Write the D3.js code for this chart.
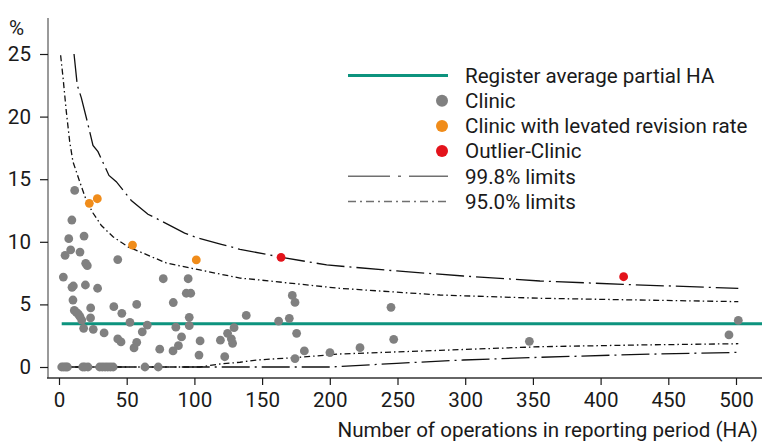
<!DOCTYPE html>
<html>
<head>
<meta charset="utf-8">
<script src="https://cdn.jsdelivr.net/npm/d3@7"></script>
<style>
  html, body { margin: 0; padding: 0; background: #fff; }
  svg text { font-family: Roboto, "Noto Sans", sans-serif; fill: #1a1a1a; }
</style>
</head>
<body>
<svg id="chart" width="762" height="443"></svg>
<script>
// clinics: [operations, revision rate %]
const clinics = [
  [11.6, 14.1], [9.5, 11.74], [7.2, 10.25], [18.5, 10.46], [8.6, 9.35], [15.5, 9.18],
  [4.5, 8.92], [43.4, 8.58], [19.7, 8.28], [20.9, 8.09], [3.2, 7.18], [77, 7.05],
  [95.4, 7.05], [9.6, 6.36], [10.6, 6.47], [19.5, 6.55], [28.5, 6.29], [94, 5.89],
  [97.3, 5.89], [84.4, 5.15], [10.3, 5.35], [57.4, 5.0], [40.5, 4.82], [23.4, 4.72],
  [11.3, 4.52], [12.8, 4.37], [14.3, 4.23], [15.5, 4.02], [16.8, 3.75], [23.3, 3.92],
  [46.4, 4.29], [138.3, 4.12], [96.2, 3.97], [96.2, 3.3], [86.3, 3.18], [18.2, 3.09],
  [25.3, 3.01], [52.4, 3.56], [65.2, 3.35], [33.3, 2.72], [61.5, 2.81], [129.3, 3.14],
  [124.5, 2.69], [43.4, 2.24], [45.8, 2.0], [57.4, 1.97], [55.4, 1.52], [90.5, 2.4],
  [88.2, 1.7], [84.2, 1.28], [74.4, 1.42], [104.2, 2.08], [119.2, 2.14], [127.3, 2.25],
  [128.2, 1.89], [103.4, 0.95], [122.4, 0.82], [162.2, 3.67], [170.1, 3.89], [172.3, 5.72],
  [174.3, 5.16], [175.5, 2.69], [181.2, 1.28], [174.3, 0.67], [200.1, 1.15], [222.3, 1.54],
  [245.2, 4.77], [247.2, 2.21], [347.4, 2.05], [494.8, 2.56], [501.7, 3.73],
  [2, 0], [3.5, 0], [5, 0], [6.2, 0], [17.5, 0], [19, 0], [21.4, 0], [30, 0], [32, 0],
  [34, 0], [36, 0], [38, 0], [40, 0], [63.5, 0], [73.3, 0]
];
const elevated = [[22.4, 13.07], [28.3, 13.44], [54.3, 9.74], [101.4, 8.55]];
const outliers = [[164, 8.76], [417, 7.21]];

const registerAverage = 3.46;
const averageSpan = [2, 520];

// control limits: [operations, %]
const upper998 = [
  [11.1, 25.0], [13.5, 22.5], [16.5, 21.5], [20.9, 19.6], [25.1, 17.7], [28.8, 17.2],
  [36.9, 15.3], [42.3, 14.8], [53.4, 13.3], [65.7, 12.2], [76.8, 11.6], [92.8, 10.7],
  [102.7, 10.3], [119.9, 9.8], [133.7, 9.4], [153.1, 9.0], [164.5, 8.76], [197.7, 8.15],
  [249.4, 7.67], [298.6, 7.27], [355.2, 6.87], [416.8, 6.6], [501.7, 6.28]
];
const upper950 = [
  [1.2, 24.9], [3, 23.1], [5.4, 20.4], [7.9, 18.0], [10.3, 16.4], [15.3, 14.8],
  [20.2, 13.3], [25.1, 12.3], [31.3, 11.3], [39.9, 10.4], [51, 9.6], [70.7, 8.7],
  [79.5, 8.3], [104, 7.75], [133.7, 7.1], [148.5, 6.95], [207.5, 6.28], [281.4, 5.75],
  [355.2, 5.49], [429, 5.35], [501.7, 5.22]
];
const lower950 = [
  [2, 0], [104, 0], [119, 0.24], [133.7, 0.38], [146, 0.56], [174.3, 0.75],
  [207.5, 1.04], [281.4, 1.33], [355.2, 1.62], [429, 1.76], [501.7, 1.86]
];
const lower998 = [
  [2, 0], [200, 0], [249.4, 0.29], [298.6, 0.56], [347.9, 0.75], [429, 1.01], [501.7, 1.17]
];

const xTicks = [0, 50, 100, 150, 200, 250, 300, 350, 400, 450, 500];
const yTicks = [0, 5, 10, 15, 20, 25];

const legendItems = [
  { label: "Register average partial HA", kind: "avg" },
  { label: "Clinic", kind: "dot", color: "#808080" },
  { label: "Clinic with levated revision rate", kind: "dot", color: "#f08c1a" },
  { label: "Outlier-Clinic", kind: "dot", color: "#e3131b" },
  { label: "99.8% limits", kind: "l998" },
  { label: "95.0% limits", kind: "l950" }
];

const TEAL = "#0d937e";
const FS = 20.6;
const svg = d3.select("#chart");

const x = d3.scaleLinear().domain([0, 500]).range([59, 736]);
const y = d3.scaleLinear().domain([0, 25]).range([367, 54]);

// axes
svg.append("line").attr("x1", 48).attr("x2", 48).attr("y1", 18).attr("y2", 378)
  .attr("stroke", "#9a9a9a").attr("stroke-width", 2);
svg.append("line").attr("x1", 47).attr("x2", 762).attr("y1", 378).attr("y2", 378)
  .attr("stroke", "#333").attr("stroke-width", 1.3);

const yAxis = svg.append("g").attr("transform", "translate(48,0)")
  .call(d3.axisLeft(y).tickValues(yTicks).tickSize(8).tickPadding(9));
const xAxis = svg.append("g").attr("transform", "translate(0,378)")
  .call(d3.axisBottom(x).tickValues(xTicks).tickSize(7).tickPadding(7));
[yAxis, xAxis].forEach(g => {
  g.select(".domain").remove();
  g.selectAll(".tick line").attr("stroke", "#1a1a1a").attr("stroke-width", 1.2);
  g.selectAll(".tick text").attr("font-size", FS).attr("fill", "#1a1a1a")
    .style("font-family", 'Roboto, "Noto Sans", sans-serif');
});

svg.append("text").attr("x", 9).attr("y", 35).attr("font-size", FS).text("%");
svg.append("text").attr("x", 758).attr("y", 437).attr("text-anchor", "end")
  .attr("font-size", FS).text("Number of operations in reporting period (HA)");

// limits
const line = d3.line().x(d => x(d[0])).y(d => y(d[1]));
const limitStyles = [
  { data: upper998, dash: "28,5,2,5" },
  { data: lower998, dash: "28,5,2,5" },
  { data: upper950, dash: "6,3,1.5,3" },
  { data: lower950, dash: "6,3,1.5,3" }
];
svg.append("g").selectAll("path").data(limitStyles).join("path")
  .attr("d", d => line(d.data))
  .attr("fill", "none").attr("stroke", "#111").attr("stroke-width", 1.3)
  .attr("stroke-dasharray", d => d.dash);

// register average
svg.append("line")
  .attr("x1", x(averageSpan[0])).attr("x2", x(averageSpan[1]))
  .attr("y1", y(registerAverage)).attr("y2", y(registerAverage))
  .attr("stroke", TEAL).attr("stroke-width", 3);

// clinics
const dotGroups = [
  { data: clinics, color: "#808080" },
  { data: elevated, color: "#f08c1a" },
  { data: outliers, color: "#e3131b" }
];
dotGroups.forEach(gp => {
  svg.append("g").selectAll("circle").data(gp.data).join("circle")
    .attr("cx", d => x(d[0])).attr("cy", d => y(d[1])).attr("r", 4.4)
    .attr("fill", gp.color);
});

// legend
const lg = svg.append("g").attr("transform", "translate(348,75.5)");
const rows = lg.selectAll("g").data(legendItems).join("g")
  .attr("transform", (d, i) => `translate(0,${i * 25.2})`);
rows.filter(d => d.kind === "avg").append("line")
  .attr("x1", 0).attr("x2", 100).attr("stroke", TEAL).attr("stroke-width", 3);
rows.filter(d => d.kind === "dot").append("circle")
  .attr("cx", 94).attr("r", 6).attr("fill", d => d.color);
rows.filter(d => d.kind === "l998").append("line")
  .attr("x1", 0).attr("x2", 100).attr("stroke", "#707070").attr("stroke-width", 1.5)
  .attr("stroke-dasharray", "42,8,3,8");
rows.filter(d => d.kind === "l950").append("line")
  .attr("x1", 0).attr("x2", 100).attr("stroke", "#707070").attr("stroke-width", 1.5)
  .attr("stroke-dasharray", "8,4,2,4");
rows.append("text").attr("x", 117).attr("dy", "0.35em").attr("font-size", FS)
  .text(d => d.label);
</script>
</body>
</html>
